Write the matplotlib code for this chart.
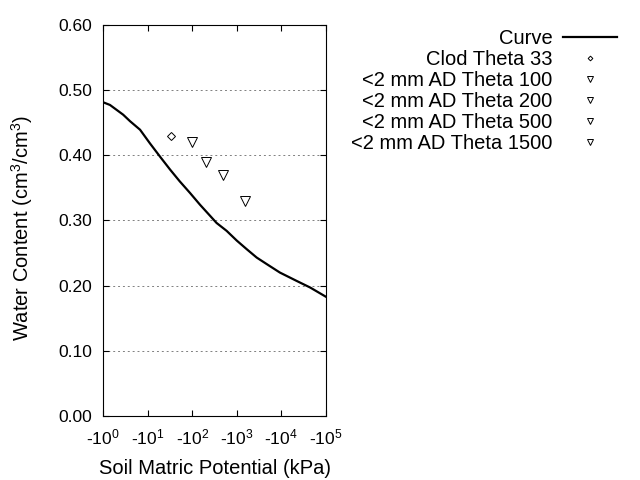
import matplotlib.pyplot as plt
import numpy as np

plt.rcParams["font.family"] = "Liberation Sans"
plt.rcParams["mathtext.fontset"] = "custom"
plt.rcParams["mathtext.rm"] = "Liberation Sans"
plt.rcParams["mathtext.it"] = "Liberation Sans:italic"

# Fitted curve (kPa, cm3/cm3)
curve_kpa = [1, 1.41, 2.8, 4.0, 6.7, 11.2, 18.7, 31.6, 52, 89, 149, 352, 590,
             1000, 1660, 2800, 4700, 9300, 22400, 44700, 100000]
curve_theta = [0.481, 0.477, 0.462, 0.452, 0.439, 0.418, 0.398, 0.378, 0.360,
               0.342, 0.324, 0.296, 0.284, 0.269, 0.256, 0.243, 0.233, 0.220,
               0.207, 0.197, 0.183]

# Measured points
clod_kpa = [33]
clod_theta = [0.43]
ad_kpa = [100, 200, 500, 1500]
ad_theta = [0.42, 0.39, 0.37, 0.33]
ad_labels = ['<2 mm AD Theta 100', '<2 mm AD Theta 200',
             '<2 mm AD Theta 500', '<2 mm AD Theta 1500']

xticks = [1, 10, 100, 1000, 10000, 100000]
xticklabels = ['-10$^{%d}$' % i for i in range(6)]
yticks = np.arange(0, 0.61, 0.1)

fig = plt.figure(figsize=(6.4, 4.8), dpi=100)
ax = fig.add_axes([0.1614, 0.1333, 0.3476, 0.8152])

ax.plot(curve_kpa, curve_theta, color='black', lw=1.6, label='Curve')
ax.plot(clod_kpa, clod_theta, ls='none', marker='D', ms=4, mfc='white',
        mec='black', mew=0.7, label='Clod Theta 33')
for k, t, lab in zip(ad_kpa, ad_theta, ad_labels):
    ax.plot([k], [t], ls='none', marker='v', ms=7, mfc='white',
            mec='black', mew=0.7, label=lab)

ax.set_xscale('log')
ax.set_xlim(1, 1e5)
ax.set_ylim(0, 0.6)
ax.set_xticks(xticks)
ax.set_xticklabels(xticklabels)
ax.xaxis.set_minor_locator(plt.NullLocator())
ax.set_yticks(yticks)
ax.set_yticklabels(['%.2f' % v for v in yticks])
ax.tick_params(direction='in', top=True, right=True, length=4, width=0.8,
               labelsize=12.5, pad=8)
for s in ax.spines.values():
    s.set_linewidth(0.8)

for y in yticks[1:-1]:
    ax.axhline(y, color='gray', ls=(0, (2, 3)), lw=0.7, zorder=0)

ax.set_xlabel('Soil Matric Potential (kPa)', fontsize=14.5)
ax.set_ylabel('Water Content (cm$^3$/cm$^3$)', fontsize=14.5)
ax.xaxis.set_label_coords(0.5, -0.11)
ax.yaxis.set_label_coords(-0.307, 0.48)

fig.legend(loc='upper right', bbox_to_anchor=(617 / 640, 1 - 29 / 480),
           frameon=False, markerfirst=False, fontsize=14.5, borderpad=0,
           handlelength=2.7, handletextpad=0.5, labelspacing=0.1,
           markerscale=0.6, borderaxespad=0)

fig.savefig('out.png', dpi=100)
